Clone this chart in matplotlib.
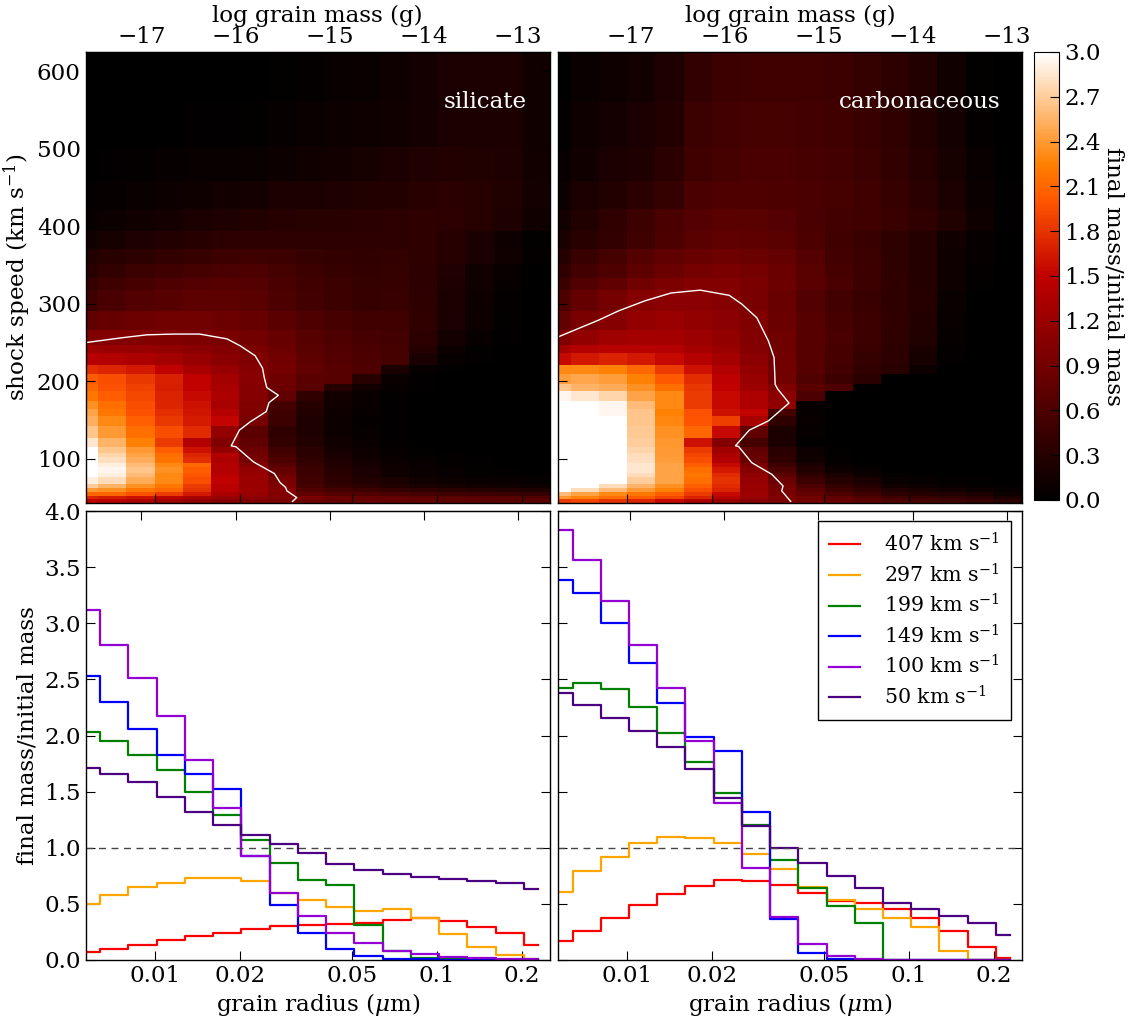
import numpy as np
import matplotlib
matplotlib.use('Agg')
import matplotlib.pyplot as plt

plt.rcParams['font.family'] = ['DejaVu Serif']
plt.rcParams['mathtext.fontset'] = 'dejavuserif'
plt.rcParams['font.size'] = 16.6

# log10 of grain radius (micron) for the size bins
log_radius = [-2.243, -2.143, -2.043, -1.943, -1.843, -1.743, -1.643, -1.543, -1.443,
              -1.343, -1.243, -1.143, -1.043, -0.943, -0.843, -0.743, -0.643]
log_radius_edges = [-2.245, -2.2, -2.1, -2.0, -1.9, -1.8, -1.7, -1.6, -1.5,
                    -1.4, -1.3, -1.2, -1.1, -1.0, -0.9, -0.8, -0.7, -0.6]
speed_edges = [43, 48, 52, 57, 63, 68, 76, 82, 89, 95, 102, 108, 115, 127, 142, 155, 164,
               175, 187, 196, 209, 221, 237, 247, 266, 291, 318, 334, 351, 371, 394, 423, 458, 502, 560, 625]

# line panels: final/initial mass per size bin
sil_407 = [.07, .10, .135, .175, .215, .24, .28, .30, .31, .32, .33, .356, .37, .35, .295, .24, .133]
sil_297 = [.50, .58, .65, .69, .73, .73, .70, .60, .535, .47, .435, .457, .37, .23, .12, .045, .005]
sil_199 = [2.03, 1.95, 1.83, 1.69, 1.50, 1.29, 1.07, .86, .71, .67, .31, .08, .02, .005, .002, 0, 0]
sil_149 = [2.53, 2.30, 2.06, 1.83, 1.66, 1.52, .93, .49, .24, .10, .04, .012, .005, .002, 0, 0, 0]
sil_100 = [3.12, 2.81, 2.51, 2.17, 1.78, 1.35, .93, .60, .39, .24, .15, .08, .05, .03, .015, .008, .005]
sil_50 = [1.71, 1.66, 1.59, 1.455, 1.32, 1.20, 1.11, 1.03, .95, .855, .80, .77, .74, .72, .70, .685, .635]

carb_407 = [.17, .26, .37, .49, .59, .66, .71, .70, .667, .595, .53, .507, .454, .377, .26, .12, .02]
carb_297 = [.61, .79, .92, 1.045, 1.10, 1.09, 1.045, .945, .81, .653, .535, .457, .373, .297, .08, 0, 0]
carb_199 = [2.42, 2.47, 2.415, 2.25, 2.025, 1.76, 1.485, 1.20, .89, .64, .485, .33, 0, 0, 0, 0, 0]
carb_149 = [3.385, 3.27, 3.005, 2.65, 2.29, 1.99, 1.865, 1.32, .365, .065, .01, 0, 0, 0, 0, 0, 0]
carb_100 = [3.83, 3.56, 3.20, 2.81, 2.42, 1.95, 1.40, .82, .38, .14, .036, .005, 0, 0, 0, 0, 0]
carb_50 = [2.38, 2.27, 2.155, 2.04, 1.90, 1.70, 1.44, 1.19, 1.00, .867, .75, .64, .51, .45, .395, .33, .22]

# heat maps, one row per speed bin, slowest first
sil_map = [
    [1.50, 1.45, 1.35, 1.25, 1.15, 1.05, 1.00, .95, .85, .80, .80, .78, .76, .74, .72, .72, .70],
    sil_50,
    [2.09, 2.09, 1.97, 1.85, 1.65, 1.33, 1.18, 1.02, .75, .65, .62, .58, .55, .50, .48, .45, .42],
    [2.40, 2.35, 2.20, 2.10, 1.80, 1.45, 1.22, 1.05, .65, .55, .47, .42, .37, .33, .30, .27, .24],
    [2.70, 2.55, 2.35, 2.20, 1.85, 1.45, 1.20, 1.00, .56, .42, .33, .28, .22, .18, .15, .13, .10],
    [2.90, 2.80, 2.50, 2.30, 1.95, 1.50, 1.20, .95, .50, .36, .26, .20, .14, .10, .08, .06, .05],
    [3.00, 2.90, 2.60, 2.30, 2.00, 1.45, 1.20, .85, .47, .32, .22, .14, .09, .06, .04, .03, .02],
    [3.10, 2.95, 2.65, 2.35, 2.05, 1.40, 1.15, .80, .46, .30, .20, .12, .08, .05, .03, .02, .01],
    [3.15, 2.90, 2.60, 2.30, 2.10, 1.40, 1.05, .70, .43, .27, .17, .10, .06, .04, .02, .01, .007],
    sil_100,
    [3.10, 2.75, 2.45, 2.15, 1.72, 1.40, .90, .55, .36, .20, .12, .06, .03, .02, .01, .005, .002],
    [3.00, 2.65, 2.40, 2.05, 1.60, 1.15, .85, .50, .33, .17, .10, .05, .02, .01, .005, 0, 0],
    [2.85, 2.55, 2.25, 1.85, 1.40, 1.00, .75, .40, .28, .13, .07, .03, .01, .005, 0, 0, 0],
    [2.65, 2.40, 2.15, 1.95, 1.75, 1.15, .72, .38, .24, .10, .05, .015, .005, 0, 0, 0, 0],
    sil_149,
    [2.45, 2.20, 1.98, 1.78, 1.62, 1.42, 1.00, .50, .27, .12, .05, .02, .01, .005, 0, 0, 0],
    [2.35, 2.15, 1.95, 1.72, 1.60, 1.32, 1.00, .55, .30, .13, .06, .02, .01, 0, 0, 0, 0],
    [2.20, 2.05, 1.92, 1.70, 1.55, 1.35, 1.05, .75, .38, .15, .07, .03, .01, 0, 0, 0, 0],
    [2.10, 1.98, 1.88, 1.68, 1.50, 1.32, 1.05, .85, .70, .30, .15, .05, .015, .005, 0, 0, 0],
    sil_199,
    [1.78, 1.72, 1.65, 1.50, 1.32, 1.18, 1.05, .92, .76, .68, .62, .22, .05, .02, .01, 0, 0],
    [1.45, 1.40, 1.35, 1.28, 1.18, 1.08, 1.00, .90, .74, .66, .60, .55, .20, .05, .02, .005, 0],
    [1.22, 1.20, 1.18, 1.15, 1.08, 1.02, .95, .85, .70, .64, .58, .55, .30, .10, .03, .01, 0],
    [1.00, 1.02, 1.02, 1.00, .98, .95, .90, .80, .68, .62, .56, .53, .35, .16, .06, .02, 0],
    [.75, .80, .85, .88, .88, .85, .80, .72, .62, .56, .51, .50, .38, .20, .10, .03, 0],
    sil_297,
    [.42, .50, .56, .62, .66, .67, .66, .58, .51, .46, .42, .43, .35, .24, .13, .05, .01],
    [.32, .40, .46, .50, .55, .58, .60, .54, .47, .44, .41, .42, .35, .25, .14, .07, .01],
    [.25, .32, .36, .40, .44, .48, .50, .47, .42, .40, .38, .40, .37, .30, .22, .13, .04],
    [.14, .18, .24, .27, .30, .34, .36, .36, .34, .34, .34, .36, .37, .30, .22, .12, .03],
    sil_407,
    [.02, .05, .08, .10, .12, .15, .17, .20, .22, .24, .26, .28, .32, .33, .30, .26, .16],
    [.01, .02, .04, .05, .06, .07, .08, .10, .13, .15, .18, .20, .25, .27, .26, .24, .15],
    [0, .005, .01, .01, .02, .02, .03, .05, .08, .10, .12, .14, .17, .20, .23, .23, .14],
    [0, 0, 0, 0, .01, .01, .01, .03, .04, .06, .08, .12, .16, .20, .23, .23, .13],
]

carb_map = [
    [1.85, 1.90, 1.80, 1.70, 1.55, 1.35, 1.20, 1.05, .98, .88, .80, .72, .60, .55, .50, .45, .35],
    carb_50,
    [2.60, 2.45, 2.30, 2.20, 2.05, 1.85, 1.55, 1.22, .98, .78, .60, .50, .35, .30, .25, .20, .12],
    [3.00, 2.80, 2.60, 2.40, 2.25, 1.95, 1.70, 1.20, .95, .72, .50, .40, .25, .20, .15, .10, .05],
    [3.10, 3.00, 2.80, 2.55, 2.35, 2.05, 1.75, 1.20, .92, .60, .40, .30, .15, .10, .07, .04, .02],
    [3.30, 3.20, 3.00, 2.70, 2.45, 2.15, 1.80, 1.18, .85, .48, .30, .20, .08, .05, .03, .02, .01],
    [3.50, 3.35, 3.05, 2.80, 2.45, 2.20, 1.75, 1.12, .72, .35, .20, .10, .04, .02, .01, 0, 0],
    [3.60, 3.45, 3.10, 2.85, 2.45, 2.15, 1.65, 1.05, .60, .28, .12, .05, .01, 0, 0, 0, 0],
    [3.75, 3.50, 3.15, 2.85, 2.45, 2.05, 1.55, .95, .48, .20, .07, .02, 0, 0, 0, 0, 0],
    carb_100,
    [3.80, 3.55, 3.20, 2.80, 2.40, 1.90, 1.35, .80, .36, .12, .03, .005, 0, 0, 0, 0, 0],
    [3.75, 3.50, 3.20, 2.75, 2.40, 1.85, 1.25, .75, .33, .10, .02, 0, 0, 0, 0, 0, 0],
    [3.70, 3.45, 3.15, 2.70, 2.38, 1.60, 1.03, .55, .20, .02, 0, 0, 0, 0, 0, 0, 0],
    [3.60, 3.40, 3.10, 2.68, 2.35, 2.10, 1.55, .75, .22, .05, .01, 0, 0, 0, 0, 0, 0],
    carb_149,
    [3.30, 3.20, 2.95, 2.65, 2.25, 1.98, 1.60, 1.52, .55, .05, .01, 0, 0, 0, 0, 0, 0],
    [3.10, 3.05, 2.95, 2.60, 2.30, 1.85, 1.55, 1.35, 1.13, .05, .01, 0, 0, 0, 0, 0, 0],
    [2.95, 2.85, 2.75, 2.45, 2.30, 1.85, 1.55, 1.35, 1.10, .60, .03, .01, 0, 0, 0, 0, 0],
    [2.65, 2.55, 2.50, 2.35, 2.15, 1.82, 1.50, 1.22, 1.00, .72, .60, .02, 0, 0, 0, 0, 0],
    carb_199,
    [2.30, 2.30, 2.25, 2.10, 1.85, 1.60, 1.40, 1.15, .90, .68, .53, .40, .32, .10, .01, 0, 0],
    [1.55, 1.65, 1.70, 1.65, 1.55, 1.42, 1.30, 1.10, .88, .68, .55, .42, .34, .18, .02, 0, 0],
    [1.30, 1.40, 1.45, 1.45, 1.40, 1.30, 1.20, 1.05, .87, .68, .56, .45, .36, .22, .04, 0, 0],
    [1.00, 1.15, 1.25, 1.30, 1.30, 1.22, 1.15, 1.02, .86, .68, .58, .47, .37, .26, .05, 0, 0],
    [.78, .95, 1.05, 1.15, 1.20, 1.15, 1.10, 1.00, .84, .67, .56, .47, .38, .28, .07, 0, 0],
    carb_297,
    [.48, .65, .75, .88, .98, 1.02, 1.02, .95, .85, .72, .58, .48, .38, .29, .12, .03, .01],
    [.38, .52, .62, .74, .84, .92, .95, .92, .84, .70, .56, .47, .37, .29, .12, .04, .01],
    [.30, .45, .55, .66, .76, .82, .86, .84, .78, .66, .52, .46, .37, .29, .12, .05, .01],
    [.20, .32, .40, .50, .60, .70, .75, .74, .70, .60, .50, .45, .37, .29, .13, .05, .01],
    carb_407,
    [.10, .20, .27, .33, .42, .58, .62, .62, .60, .58, .54, .50, .43, .33, .22, .09, .02],
    [.06, .14, .20, .24, .33, .50, .55, .58, .58, .56, .52, .46, .40, .30, .18, .06, .01],
    [.03, .12, .16, .20, .28, .46, .52, .54, .55, .53, .50, .45, .38, .28, .16, .04, .01],
    [.01, .08, .12, .15, .24, .40, .48, .50, .50, .50, .48, .42, .36, .27, .13, .03, 0],
]

# mass ratio = 1 contours (log radius, speed)
sil_contour_x = [-2.244, -2.110, -2.028, -1.933, -1.841, -1.744, -1.697, -1.644, -1.618, -1.612, -1.603, -1.562,
                 -1.595, -1.605, -1.662, -1.700, -1.729, -1.712, -1.650, -1.576, -1.556, -1.536, -1.532, -1.497, -1.512]
sil_contour_y = [250, 256.5, 260, 261, 261, 254.8, 245.8, 233, 217, 205, 192, 182,
                 172.6, 161, 147.7, 137, 116.8, 115.5, 96, 81, 69.4, 63, 58.7, 50, 45]
carb_contour_x = [-2.240, -2.101, -2.030, -1.936, -1.844, -1.741, -1.638, -1.593, -1.540, -1.499, -1.479, -1.475,
                  -1.466, -1.426, -1.499, -1.567, -1.616, -1.605, -1.558, -1.487, -1.447, -1.452, -1.420]
carb_contour_y = [258, 279, 291, 304, 314, 317.7, 311, 299.6, 282, 252, 230.7, 196,
                  190, 172, 149, 137, 116.8, 116, 95, 80, 65, 58.7, 45]

line_speeds = ['407', '297', '199', '149', '100', '50']
line_colors = ['red', 'orange', 'green', 'blue', 'darkviolet', 'indigo']
mass_ticks = [-17, -16, -15, -14, -13]
radius_ticks = [0.01, 0.02, 0.05, 0.1, 0.2]
radius_labels = ['0.01', '0.02', '0.05', '0.1', '0.2']
speed_ticks = [100, 200, 300, 400, 500, 600]
ratio_ticks = [0, 0.5, 1.0, 1.5, 2.0, 2.5, 3.0, 3.5, 4.0]
cbar_ticks = [0, 0.3, 0.6, 0.9, 1.2, 1.5, 1.8, 2.1, 2.4, 2.7, 3.0]

W, H = 1135.0, 1023.0


def box(x0, x1, y0, y1):
    return [x0 / W, 1 - y1 / H, (x1 - x0) / W, (y1 - y0) / H]


def style_axes(ax, rho, show_mass):
    ax.set_xlim(-2.245, -0.6)
    ax.set_xticks(np.log10(radius_ticks))
    ax.tick_params(direction='in', length=6.5, width=0.8, right=True, top=False)

    # log mass of a sphere of this log radius (micron), density rho
    offset = np.log10(4 / 3 * np.pi * rho) - 12

    def to_mass(x):
        return offset + 3 * np.asarray(x, dtype=float)

    def to_radius(m):
        return (np.asarray(m, dtype=float) - offset) / 3

    sec = ax.secondary_xaxis('top', functions=(to_mass, to_radius))
    sec.set_xticks(mass_ticks)
    sec.tick_params(direction='in', length=6.5, width=0.8, labeltop=show_mass, pad=3)
    if show_mass:
        sec.set_xlabel('log grain mass (g)', labelpad=3)
    for s in ax.spines.values():
        s.set_linewidth(1.0)


fig = plt.figure(figsize=(W / 100, H / 100), dpi=100)
ax_sil = fig.add_axes(box(85.5, 550, 52, 503))
ax_carb = fig.add_axes(box(558, 1022, 52, 503))
ax_sil2 = fig.add_axes(box(85.5, 550, 511, 960))
ax_carb2 = fig.add_axes(box(558, 1022, 511, 960))

panels = [(ax_sil, ax_sil2, sil_map, 3.3, sil_contour_x, sil_contour_y, 'silicate', 0.950,
           [sil_407, sil_297, sil_199, sil_149, sil_100, sil_50]),
          (ax_carb, ax_carb2, carb_map, 2.2, carb_contour_x, carb_contour_y, 'carbonaceous', 0.953,
           [carb_407, carb_297, carb_199, carb_149, carb_100, carb_50])]

for top, bot, grid, rho, cx, cy, name, tx, series in panels:
    mesh = top.pcolormesh(log_radius_edges, speed_edges, np.array(grid), cmap='gist_heat', vmin=0, vmax=3,
                          shading='flat')
    top.plot(cx, cy, color='white', lw=1.0)
    top.set_ylim(43, 625)
    top.set_yticks(speed_ticks)
    style_axes(top, rho, True)
    top.tick_params(labelbottom=False)
    top.text(tx, 0.889, name, transform=top.transAxes, color='white', ha='right', va='center', fontsize=16.6)

    for vals, speed, col in zip(series, line_speeds, line_colors):
        bot.step(log_radius, vals, where='mid', color=col, lw=1.6,
                 label=speed + r' km s$^{-1}$')
    bot.axhline(1.0, color='#444444', ls='--', lw=1.0, dashes=(5, 4))
    bot.set_ylim(0, 4)
    bot.set_yticks(ratio_ticks)
    style_axes(bot, rho, False)
    bot.set_xticklabels(radius_labels)
    bot.set_xlabel(r'grain radius ($\mu$m)', labelpad=3)

ax_carb.tick_params(labelleft=False)
ax_carb2.tick_params(labelleft=False)
ax_sil.set_ylabel(r'shock speed (km s$^{-1}$)')
ax_sil.yaxis.set_label_coords((33 - 85.5) / 464.5, 0.5)
ax_sil2.set_ylabel('final mass/initial mass')
ax_sil2.yaxis.set_label_coords((39 - 85.5) / 464.5, 0.5)

leg = ax_carb2.legend(loc='upper right', bbox_to_anchor=(0.9763, 0.9777), borderaxespad=0, fancybox=False,
                      framealpha=1, edgecolor='black', fontsize=14.8, handlelength=1.5, handletextpad=1.15,
                      labelspacing=0.36, borderpad=0.55)
leg.get_frame().set_linewidth(1.0)

cax = fig.add_axes(box(1034, 1059, 52, 500))
cb = fig.colorbar(mesh, cax=cax, ticks=cbar_ticks)
cb.ax.tick_params(direction='in', length=6.5, width=0.8, pad=4)
cb.ax.set_yticklabels(['%.1f' % t for t in cbar_ticks])
cb.set_label('final mass/initial mass', rotation=270, labelpad=17)

fig.savefig('out.png', dpi=100)
